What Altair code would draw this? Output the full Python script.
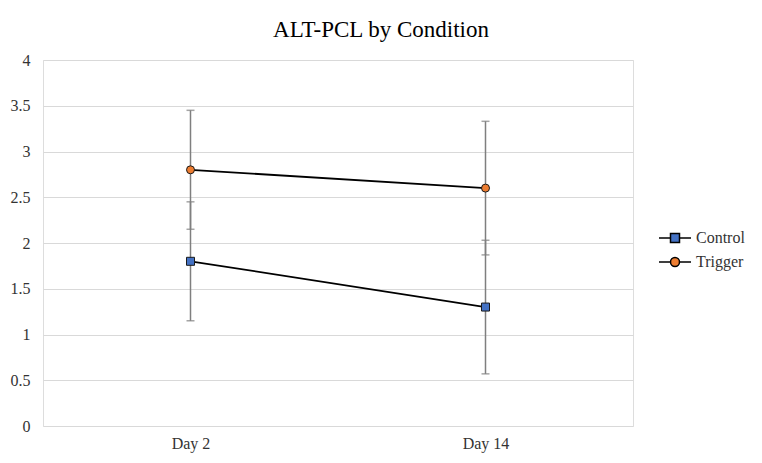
import altair as alt
import pandas as pd

days = ["Day 2", "Day 14"]
series = ["Control", "Trigger"]
control_mean = [1.8, 1.3]
control_err = [0.65, 0.73]
trigger_mean = [2.8, 2.6]
trigger_err = [0.65, 0.73]
colors = ["#4472C4", "#ED7D31"]
y_ticks = [0, 0.5, 1, 1.5, 2, 2.5, 3, 3.5, 4]

rows = []
for s, means, errs in [("Control", control_mean, control_err), ("Trigger", trigger_mean, trigger_err)]:
    for d, m, e in zip(days, means, errs):
        rows.append({"day": d, "series": s, "mean": m, "lo": m - e, "hi": m + e})
df = pd.DataFrame(rows)

FONT = "'Times New Roman', 'Liberation Serif', serif"

x = alt.X("day:N", sort=days, scale=alt.Scale(type="point", padding=0.5),
          axis=alt.Axis(title=None, labelAngle=0, ticks=False, domain=False, grid=False,
                        labelFont=FONT, labelFontSize=16, labelColor="#333333", labelPadding=9))
y_axis = alt.Axis(title=None, values=y_ticks, format="~g", ticks=False, domain=False,
                  grid=True, gridColor="#d9d9d9", gridWidth=1,
                  labelFont=FONT, labelFontSize=16, labelColor="#333333", labelPadding=13)
y_scale = alt.Scale(domain=[0, 4], nice=False, zero=True)

base = alt.Chart(df)

err = base.mark_rule(color="#7f7f7f", strokeWidth=1.5).encode(
    x=x, y=alt.Y("lo:Q", scale=y_scale, axis=y_axis), y2="hi:Q")
cap_lo = base.mark_tick(color="#7f7f7f", thickness=1.5, size=8, orient="horizontal").encode(
    x=x, y=alt.Y("lo:Q", scale=y_scale, axis=y_axis))
cap_hi = base.mark_tick(color="#7f7f7f", thickness=1.5, size=8, orient="horizontal").encode(
    x=x, y=alt.Y("hi:Q", scale=y_scale, axis=y_axis))
line = base.mark_line(color="black", strokeWidth=1.8).encode(
    x=x, y=alt.Y("mean:Q", scale=y_scale, axis=y_axis), detail="series:N")
pts = base.mark_point(filled=True, stroke="#1a1a1a", strokeWidth=1, size=64, opacity=1).encode(
    x=x, y=alt.Y("mean:Q", scale=y_scale, axis=y_axis),
    fill=alt.Fill("series:N", scale=alt.Scale(domain=series, range=colors), legend=None),
    shape=alt.Shape("series:N", scale=alt.Scale(domain=series, range=["square", "circle"]), legend=None),
)

sq_path = "M-3.2,0H-0.9M0.9,0H3.2M-0.9,-0.9H0.9V0.9H-0.9Z"
ci_path = "M-3.2,0H-0.9M0.9,0H3.2M-0.9,0A0.9,0.9 0 1,0 0.9,0A0.9,0.9 0 1,0 -0.9,0Z"

leg = alt.Legend(title=None, orient="none", legendX=624, legendY=170, symbolSize=100,
                 labelOffset=13, labelFont=FONT, labelFontSize=16, labelColor="#333333",
                 rowPadding=8, padding=0)

legend_layer = base.mark_point(filled=True, stroke="black", strokeWidth=1.4, size=100, opacity=1).transform_filter(
    "datum.mean < 0").encode(
    x=x, y=alt.Y("mean:Q", scale=y_scale, axis=y_axis),
    fill=alt.Fill("series:N", scale=alt.Scale(domain=series, range=colors), legend=leg),
    shape=alt.Shape("series:N", scale=alt.Scale(domain=series, range=[sq_path, ci_path]), legend=leg),
)

chart = alt.layer(err, cap_lo, cap_hi, line, pts, legend_layer).resolve_scale(
    fill="independent", shape="independent"
).properties(
    width=590, height=366,
    title=alt.Title("ALT-PCL by Condition", font=FONT, fontSize=23, fontWeight="normal",
                    color="black", anchor="middle", frame="group", dx=43, offset=10),
    autosize=alt.AutoSizeParams(type="none"),
    padding={"left": 35, "top": 52, "right": 121, "bottom": 29},
).configure_view(stroke=None).configure(background="white", font=FONT)

chart.save("out.html", embed_options={"renderer": "svg", "actions": False})
